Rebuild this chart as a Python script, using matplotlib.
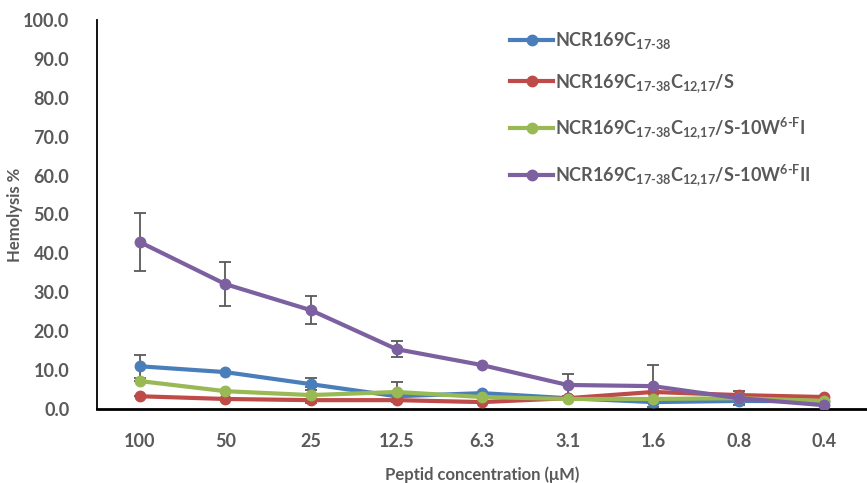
import numpy as np
import matplotlib
matplotlib.use('Agg')
import matplotlib.pyplot as plt
from matplotlib.lines import Line2D

plt.rcParams['font.family'] = ['Lato', 'DejaVu Sans']
plt.rcParams['mathtext.fontset'] = 'custom'
plt.rcParams['mathtext.rm'] = 'Lato:bold'
plt.rcParams['mathtext.bf'] = 'Lato:bold'
plt.rcParams['mathtext.default'] = 'bf'

# Datos
concentrations = ['100', '50', '25', '12.5', '6.3', '3.1', '1.6', '0.8', '0.4']

blue_vals = [11.0, 9.5, 6.4, 3.3, 4.1, 2.8, 1.8, 2.1, 2.0]
blue_err = [2.9, 0.0, 1.6, 0.0, 0.0, 0.0, 0.0, 0.0, 0.0]

red_vals = [3.3, 2.6, 2.3, 2.3, 1.8, 2.8, 4.4, 3.6, 3.1]
red_err = [0.0, 0.0, 0.0, 0.0, 0.0, 0.0, 0.0, 0.0, 0.0]

green_vals = [7.2, 4.6, 3.6, 4.4, 3.1, 2.6, 2.6, 2.8, 2.1]
green_err = [0.0, 0.0, 2.0, 2.6, 0.0, 0.0, 0.0, 0.0, 0.0]

purple_vals = [42.9, 32.1, 25.4, 15.4, 11.3, 6.2, 5.9, 2.8, 1.0]
purple_err = [7.5, 5.7, 3.6, 2.1, 0.0, 2.8, 5.4, 1.8, 0.0]

labels = [
    r'NCR169C$_{17\text{-}38}$',
    r'NCR169C$_{17\text{-}38}$C$_{12{,}17}$/S',
    r'NCR169C$_{17\text{-}38}$C$_{12{,}17}$/S-10W$^{6\text{-}F}$I',
    r'NCR169C$_{17\text{-}38}$C$_{12{,}17}$/S-10W$^{6\text{-}F}$II',
]
colors = ['#4A7EBB', '#BE4B48', '#98B954', '#7D60A0']

fig = plt.figure(figsize=(8.67, 4.83), dpi=100)
ax = fig.add_axes([0.112, 0.153, 0.888, 0.806])

x = np.arange(len(concentrations))
series = [(blue_vals, blue_err), (red_vals, red_err),
          (green_vals, green_err), (purple_vals, purple_err)]

handles = []
for (vals, err), color, label in zip(series, colors, labels):
    ax.errorbar(x, vals, yerr=err, color=color, linewidth=3, marker='o',
                markersize=7.5, ecolor='#595959', elinewidth=1.3, capsize=4,
                capthick=1.3, zorder=3)
    handles.append(Line2D([], [], color=color, linewidth=3, marker='o',
                          markersize=7.5, label=label))

ax.set_xlim(-0.5, len(concentrations) - 0.5)
ax.set_ylim(0, 100)
ax.set_yticks(np.arange(0, 101, 10))
ax.set_yticklabels([f'{v:.1f}' for v in np.arange(0, 101, 10)])
ax.set_xticks(x)
ax.set_xticklabels(concentrations)

for spine in ['top', 'right']:
    ax.spines[spine].set_visible(False)
ax.spines['left'].set_linewidth(1.3)
ax.spines['bottom'].set_linewidth(2)
ax.tick_params(axis='both', length=0, labelsize=13, colors='#595959')
ax.tick_params(axis='x', pad=17)
ax.tick_params(axis='y', pad=20)
for lbl in ax.get_xticklabels() + ax.get_yticklabels():
    lbl.set_fontweight('bold')

ax.set_xlabel('Peptid concentration (μM)', fontsize=12, fontweight='bold',
              color='#595959', labelpad=12)
ax.set_ylabel('Hemolysis %', fontsize=12, fontweight='bold', color='#595959',
              labelpad=0)

leg = ax.legend(handles=handles, loc='upper left', bbox_to_anchor=(0.515, 1.015),
                frameon=False, fontsize=13, labelspacing=1.15,
                handlelength=2.4, handletextpad=0.1)
for t in leg.get_texts():
    t.set_color('#595959')
    t.set_fontweight('bold')

fig.savefig('out.png', dpi=100)
